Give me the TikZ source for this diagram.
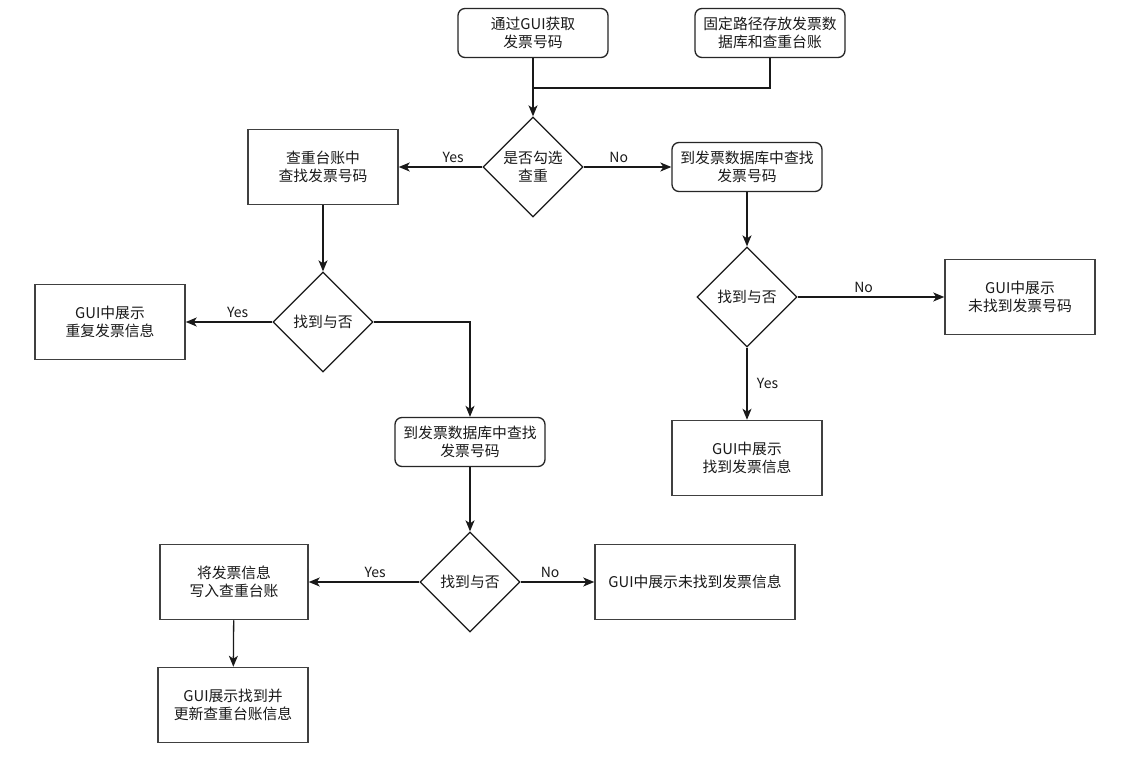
\documentclass[tikz,border=0pt]{standalone}
\usepackage{fontspec}
\setmainfont{Noto Sans CJK SC}
\usetikzlibrary{shapes.geometric,arrows.meta}
\begin{document}
\begin{tikzpicture}[x=1pt,y=-1pt,
  every node/.style={font=\fontsize{14.8}{18}\selectfont, text=black!90, align=center},
  rbox/.style={draw=black!85, line width=1.3pt, rounded corners=7pt, minimum width=150pt, minimum height=49pt, inner sep=0pt},
  sbox/.style={draw=black!75, line width=1.5pt, minimum width=150pt, minimum height=75pt, inner sep=0pt},
  dec/.style={draw=black!90, line width=1.3pt, diamond, minimum width=100pt, minimum height=100pt, inner sep=0pt, aspect=1},
  conn/.style={draw=black!90, line width=1.3pt, -{Stealth[length=11pt,width=9pt,inset=3pt]}},
  plain/.style={draw=black!90, line width=1.3pt},
  lab/.style={font=\fontsize{14}{16}\selectfont, fill=none}]
\useasboundingbox (0,0) rectangle (1132,775);
\fill[white] (0,0) rectangle (1132,775);

\node[rbox] (a) at (533,33) {通过GUI获取\\发票号码};
\node[rbox] (b) at (770,33) {固定路径存放发票数\\据库和查重台账};
\node[dec] (c) at (533,167) {是否勾选\\查重};
\node[sbox] (d) at (323,167) {查重台账中\\查找发票号码};
\node[rbox] (e) at (747,167) {到发票数据库中查找\\发票号码};
\node[dec] (f) at (323,322) {找到与否};
\node[sbox] (g) at (110,322) {GUI中展示\\重复发票信息};
\node[rbox] (h) at (470,442) {到发票数据库中查找\\发票号码};
\node[dec] (i) at (747,297) {找到与否};
\node[sbox] (j) at (1020,297) {GUI中展示\\未找到发票号码};
\node[sbox] (k) at (747,458) {GUI中展示\\找到发票信息};
\node[dec] (l) at (470,582) {找到与否};
\node[sbox, minimum width=148pt] (m) at (234,582) {将发票信息\\写入查重台账};
\node[sbox, minimum width=200pt] (n) at (695,582) {GUI中展示未找到发票信息};
\node[sbox] (o) at (233,705) {GUI展示找到并\\更新查重台账信息};

\coordinate (jn) at (533,88);
\draw[conn] (a) -- (c);
\draw[plain] (b.south) |- (jn);
\draw[conn] (c) -- node[lab, above, pos=0.35] {Yes} (d);
\draw[conn] (c) -- node[lab, above, pos=0.4] {No} (e);
\draw[conn] (d) -- (f);
\draw[conn] (f) -- node[lab, above, pos=0.4] {Yes} (g);
\draw[conn] (f.east) -| (h.north);
\draw[conn] (e) -- (i);
\draw[conn] (i) -- node[lab, above, pos=0.45] {No} (j);
\draw[conn] (i) -- node[lab, right, pos=0.5, xshift=6pt] {Yes} (k);
\draw[conn] (h) -- (l);
\draw[conn] (l) -- node[lab, above, pos=0.4] {Yes} (m);
\draw[conn] (l) -- node[lab, above, pos=0.4] {No} (n);
\draw[conn] (m) -- (o);
\end{tikzpicture}
\end{document}
